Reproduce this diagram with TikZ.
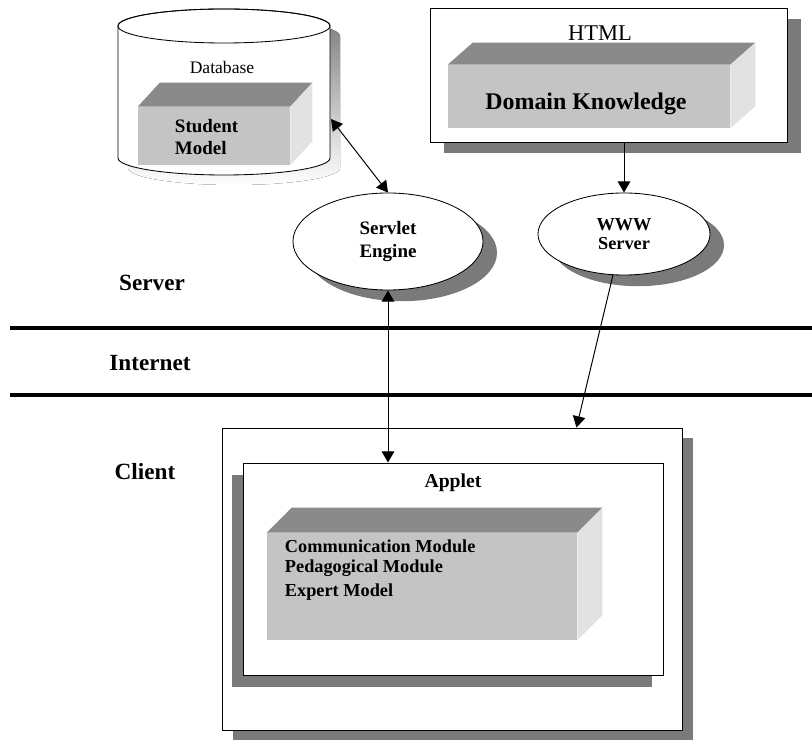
\documentclass[tikz,border=0pt]{standalone}
\usepackage{fontspec}
\setmainfont{Liberation Serif}
\usetikzlibrary{arrows.meta,shapes.geometric,shadows,calc}

\definecolor{topgray}{RGB}{138,138,138}
\definecolor{frontgray}{RGB}{196,196,196}
\definecolor{sidegray}{RGB}{226,226,226}
\definecolor{shade}{RGB}{122,122,122}

\tikzstyle{plate}=[draw=black,fill=white,line width=0.6pt]
\tikzstyle{oval}=[ellipse,draw=black,fill=white,line width=0.6pt,inner sep=0pt]
\tikzstyle{face}=[fill=frontgray,inner sep=0pt]
\tikzstyle{shadowed}=[drop shadow={shadow xshift=0.35cm,shadow yshift=-0.28cm,fill=shade,opacity=1}]
\tikzstyle{drumcap}=[x radius=2.65cm,y radius=0.425cm]
\tikzstyle{layer}=[font=\bfseries\fontsize{16.5}{18}\selectfont]
\tikzstyle{boldtxt}=[font=\bfseries\fontsize{13.5}{16}\selectfont,align=center]
\tikzstyle{sepline}=[line width=2.2pt]
\tikzstyle{conn}=[line width=0.7pt]

% top and right faces of a grey block, #2/#3 = depth right/up
\newcommand{\cubefaces}[3]{%
  \fill[topgray] (#1.north west) -- ++(#2,-#3) -- ([shift={(#2,-#3)}]#1.north east) -- (#1.north east) -- cycle;
  \fill[sidegray] (#1.north east) -- ++(#2,-#3) -- ([shift={(#2,-#3)}]#1.south east) -- (#1.south east) -- cycle;}

\begin{document}
\begin{tikzpicture}[x=0.025cm,y=-0.025cm,>={Triangle[length=8pt,width=9pt]}]
\useasboundingbox (0,0) rectangle (812,740);

% database drum
\fill[shade] (128,36) -- (128,168) arc[drumcap,start angle=180,end angle=360] -- (340,36)
  arc[drumcap,start angle=0,end angle=180] -- cycle;
\filldraw[fill=white,line width=0.6pt] (118,26) -- (118,158) arc[drumcap,start angle=180,end angle=360] -- (330,26)
  arc[drumcap,start angle=0,end angle=180] -- cycle;
\draw[line width=0.6pt] (224,26) ellipse[drumcap];
\coordinate (db) at (331,119);
\node[font=\fontsize{12.5}{14}\selectfont] (dbtitle) at (222,67) {Database};
\node[face,minimum width=3.8cm,minimum height=1.45cm] (student) at (214,136) {};
\cubefaces{student}{22}{24}
\node[boldtxt,align=left,anchor=west] (studenttxt) at (170,137) {Student\\Model};

% web content
\node[plate,shadowed,minimum width=8.925cm,minimum height=3.35cm] (html) at (608.5,75) {};
\node[font=\fontsize{16}{18}\selectfont] (htmltitle) at (600,33) {HTML};
\node[face,minimum width=7.05cm,minimum height=1.575cm] (domain) at (589,96.5) {};
\cubefaces{domain}{25}{22}
\node[font=\bfseries\fontsize{17}{19}\selectfont] (domaintxt) at (586,104) {Domain Knowledge};

\node[oval,shadowed,boldtxt,minimum width=4.75cm,minimum height=2.425cm] (servlet) at (388,241.5) {Servlet\\Engine};
\node[oval,shadowed,font=\bfseries\fontsize{13}{13.5}\selectfont,align=center,
  minimum width=4.3cm,minimum height=2.05cm] (www) at (624,234) {WWW\\Server};

% network layers
\draw[sepline] (10,328) -- (812,328);
\draw[sepline] (10,395) -- (812,395);
\node[layer] (server) at (152,283) {Server};
\node[layer] (internet) at (150,363) {Internet};
\node[layer] (clientlbl) at (145,472) {Client};

% client side
\node[plate,drop shadow={shadow xshift=0.28cm,shadow yshift=-0.25cm,fill=shade,opacity=1},
  minimum width=11.5cm,minimum height=7.55cm] (client) at (452,579) {};
\node[plate,drop shadow={shadow xshift=-0.28cm,shadow yshift=-0.3cm,fill=shade,opacity=1},
  minimum width=10.5cm,minimum height=5.3cm] (applet) at (453,569) {};
\node[font=\bfseries\fontsize{14}{16}\selectfont] (applettitle) at (453,483) {Applet};
\node[face,minimum width=7.75cm,minimum height=2.675cm] (modules) at (422,586.5) {};
\cubefaces{modules}{25}{25}
\node[font=\bfseries\fontsize{13}{14}\selectfont,align=left,anchor=west] (modtxt) at (280,570)
  {Communication Module\\Pedagogical Module\\[3pt]Expert Model};

% connections
\draw[<->,conn] (db) -- (servlet.north);
\draw[->,conn] (www.north |- html.south) -- (www.north);
\draw[<->,conn] (servlet.south) -- (servlet.south |- applet.north);
\draw[->,conn] (www.255) -- ($(client.north west)!0.77!(client.north east)$);
\end{tikzpicture}
\end{document}
